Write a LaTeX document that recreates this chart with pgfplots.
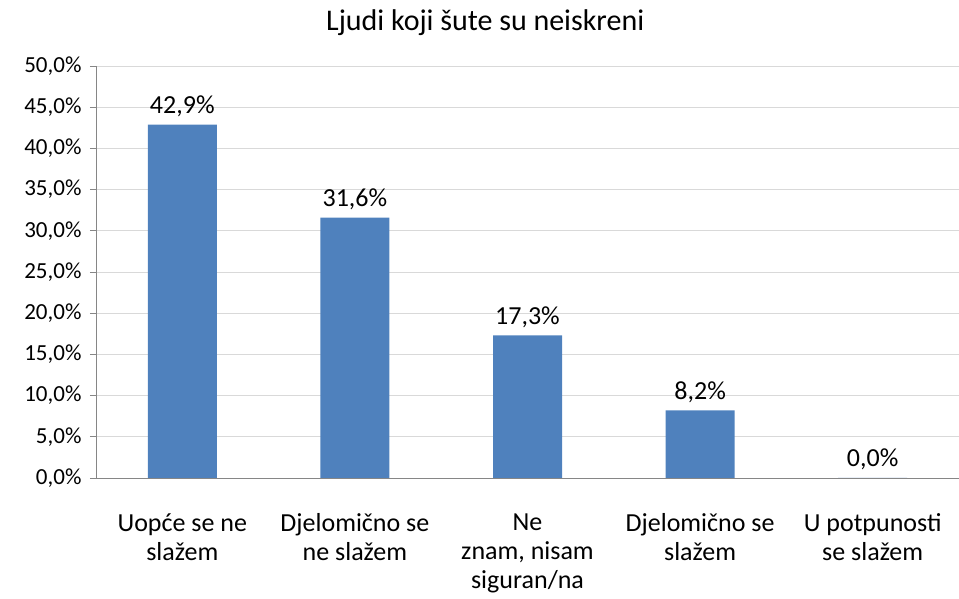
\documentclass[border=0pt]{standalone}
\usepackage{pgfplots}
\pgfplotsset{compat=1.18}
\usepackage{fontspec}
\setmainfont{Carlito}
\definecolor{barblue}{HTML}{4F81BD}
\definecolor{gridgray}{HTML}{D9D9D9}
\definecolor{axisgray}{HTML}{868686}

\begin{document}
\begin{tikzpicture}
% page size fixed first: 959 x 599
\path[use as bounding box] (-96pt,-121pt) rectangle (863pt,478pt);
\begin{axis}[
  at={(0,0)}, anchor=south west,
  scale only axis,
  width=863pt, height=412pt,
  xmin=-0.5, xmax=4.5,
  ymin=0, ymax=50,
  ybar, bar width=69pt,
  axis lines*=left,
  axis line style={axisgray, line width=0.8pt},
  ytick={0,5,...,50},
  ymajorgrids,
  major grid style={gridgray, line width=0.8pt},
  ytick style={axisgray, line width=0.8pt},
  tick align=outside,
  major tick length=6pt,
  yticklabel={\pgfmathprintnumber[fixed,fixed zerofill,precision=1,use comma]{\tick}\%},
  /pgf/number format/assume math mode=true,
  xtick={0,1,2,3,4},
  xticklabels={{Uopće se ne\\slažem},{Djelomično se\\ne slažem},{Ne\\znam, nisam\\siguran/na},{Djelomično se\\slažem},{U potpunosti\\se slažem}},
  x tick label style={align=center, font=\fontsize{26}{29}\selectfont, anchor=north, yshift=-26pt},
  major x tick style={draw=none},
  extra x ticks={-0.5,0.5,1.5,2.5,3.5},
  extra x tick labels={},
  extra x tick style={grid=none, tick style={axisgray, line width=0.8pt}},
  y tick label style={font=\fontsize{23}{26}\selectfont, xshift=-5pt},
  title={Ljudi koji šute su neiskreni},
  title style={font=\fontsize{30}{34}\selectfont, anchor=base, at={(0.451,1)}, yshift=29pt},
  nodes near coords={\pgfmathprintnumber[fixed,fixed zerofill,precision=1,use comma]{\pgfplotspointmeta}\%},
  nodes near coords style={font=\fontsize{26}{30}\selectfont, anchor=base, yshift=11pt},
  clip=false,
]
\addplot[fill=barblue, draw=none] coordinates {(0,42.9) (1,31.6) (2,17.3) (3,8.2) (4,0.0)};
\end{axis}
\end{tikzpicture}
\end{document}
